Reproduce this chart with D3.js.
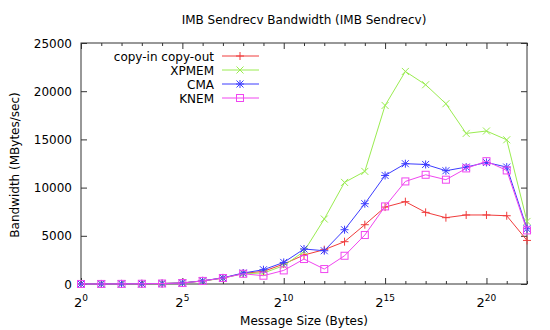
<!DOCTYPE html>
<html>
<head>
<meta charset="utf-8">
<script src="https://cdn.jsdelivr.net/npm/d3@7"></script>
<style>
  html, body { margin: 0; padding: 0; background: #fff; }
  svg { display: block; }
  text { font-family: "DejaVu Sans", sans-serif; fill: #000; }
</style>
</head>
<body>
<svg id="chart" width="550" height="330"></svg>
<script>
// Message size exponents (bytes = 2^exp)
const exponents = [0,1,2,3,4,5,6,7,8,9,10,11,12,13,14,15,16,17,18,19,20,21,22];

// Bandwidth in MBytes/sec per implementation
const copyInOut = [3,6,12,25,50,110,320,620,1100,1310,2070,3010,3560,4390,6150,7980,8540,7430,6880,7160,7160,7080,4520];
const xpmem     = [3,6,12,25,50,100,300,600,1080,1140,1900,3380,6740,10540,11680,18520,22050,20670,18700,15620,15870,14960,6490];
const cma       = [3,6,12,25,50,110,330,640,1140,1480,2240,3630,3450,5630,8330,11260,12480,12400,11750,12130,12610,12130,5730];
const knem      = [3,6,12,25,50,100,320,620,1060,860,1410,2590,1550,2930,5080,8050,10640,11330,10820,11990,12740,11780,5560];

const seriesNames = ["copy-in copy-out", "XPMEM", "CMA", "KNEM"];
const yTicks = [0, 5000, 10000, 15000, 20000, 25000];
const xLabelExps = [0, 5, 10, 15, 20];

const series = [
  { name: seriesNames[0], values: copyInOut, color: "#f03c3c", marker: "plus" },
  { name: seriesNames[1], values: xpmem,     color: "#9aec50", marker: "cross" },
  { name: seriesNames[2], values: cma,       color: "#3c3cff", marker: "star" },
  { name: seriesNames[3], values: knem,      color: "#f046f0", marker: "square" }
];

const svg = d3.select("#chart");
const plot = { left: 81, right: 527, top: 43, bottom: 284 };

const x = d3.scaleLinear().domain([0, 22]).range([plot.left, plot.right]);
const y = d3.scaleLinear().domain([0, 25000]).range([plot.bottom, plot.top]);

// Title
svg.append("text")
  .attr("x", 304).attr("y", 24)
  .attr("text-anchor", "middle")
  .attr("font-size", 12)
  .text("IMB Sendrecv Bandwidth (IMB Sendrecv)");

// Axis titles
svg.append("text")
  .attr("x", 304).attr("y", 325)
  .attr("text-anchor", "middle")
  .attr("font-size", 12)
  .text("Message Size (Bytes)");

svg.append("text")
  .attr("transform", "translate(19,165) rotate(-90)")
  .attr("text-anchor", "middle")
  .attr("font-size", 12)
  .text("Bandwidth (MBytes/sec)");

// Ticks drawn inward on all four sides, using d3 axes
const tickColor = "#333";
function styleAxis(g) {
  g.select(".domain").remove();
  g.selectAll("line").attr("stroke", tickColor).attr("stroke-width", 1);
  g.selectAll("text").remove();
}

const minorX = exponents.filter(e => e % 5 !== 0);
const majorX = exponents.filter(e => e % 5 === 0);

svg.append("g").attr("transform", `translate(0,${plot.bottom})`)
  .call(d3.axisTop(x).tickValues(minorX).tickSize(3)).call(styleAxis);
svg.append("g").attr("transform", `translate(0,${plot.bottom})`)
  .call(d3.axisTop(x).tickValues(majorX).tickSize(6)).call(styleAxis);
svg.append("g").attr("transform", `translate(0,${plot.top})`)
  .call(d3.axisBottom(x).tickValues(minorX).tickSize(3)).call(styleAxis);
svg.append("g").attr("transform", `translate(0,${plot.top})`)
  .call(d3.axisBottom(x).tickValues(majorX).tickSize(6)).call(styleAxis);
svg.append("g").attr("transform", `translate(${plot.left},0)`)
  .call(d3.axisRight(y).tickValues(yTicks).tickSize(6)).call(styleAxis);
svg.append("g").attr("transform", `translate(${plot.right},0)`)
  .call(d3.axisLeft(y).tickValues(yTicks).tickSize(6)).call(styleAxis);

// Y tick labels
svg.append("g").selectAll("text").data(yTicks).join("text")
  .attr("x", plot.left - 9)
  .attr("y", d => y(d) + 4.5)
  .attr("text-anchor", "end")
  .attr("font-size", 12)
  .text(d => d);

// X tick labels as powers of two
const xl = svg.append("g").selectAll("text").data(xLabelExps).join("text")
  .attr("x", d => x(d))
  .attr("y", 307)
  .attr("text-anchor", "middle")
  .attr("font-size", 13);
xl.append("tspan").text("2");
xl.append("tspan").attr("dy", -6).attr("font-size", 9).text(d => d);

// Frame
svg.append("rect")
  .attr("x", plot.left).attr("y", plot.top)
  .attr("width", plot.right - plot.left).attr("height", plot.bottom - plot.top)
  .attr("fill", "none").attr("stroke", tickColor).attr("stroke-width", 1);

// Marker shapes
function drawMarker(g, type, cx, cy, color) {
  const r = 3.5;
  const line = (x1, y1, x2, y2) => g.append("line")
    .attr("x1", x1).attr("y1", y1).attr("x2", x2).attr("y2", y2)
    .attr("stroke", color).attr("stroke-width", 1);
  if (type === "plus" || type === "star") {
    line(cx - r - 0.5, cy, cx + r + 0.5, cy);
    line(cx, cy - r - 0.5, cx, cy + r + 0.5);
  }
  if (type === "cross" || type === "star") {
    line(cx - r, cy - r, cx + r, cy + r);
    line(cx - r, cy + r, cx + r, cy - r);
  }
  if (type === "square") {
    g.append("rect")
      .attr("x", cx - r).attr("y", cy - r)
      .attr("width", 2 * r).attr("height", 2 * r)
      .attr("fill", "none").attr("stroke", color).attr("stroke-width", 1);
  }
}

const lineGen = d3.line().x((d, i) => x(exponents[i])).y(d => y(d));

const plotArea = svg.append("g");
series.forEach(s => {
  const g = plotArea.append("g");
  g.append("path")
    .attr("d", lineGen(s.values))
    .attr("fill", "none")
    .attr("stroke", s.color)
    .attr("stroke-width", 1);
  s.values.forEach((v, i) => drawMarker(g, s.marker, x(exponents[i]), y(v), s.color));
});

// Legend
const legend = svg.append("g");
series.forEach((s, i) => {
  const ly = 56 + i * 14;
  legend.append("text")
    .attr("x", 214).attr("y", ly + 4.5)
    .attr("text-anchor", "end")
    .attr("font-size", 12)
    .text(s.name);
  legend.append("line")
    .attr("x1", 222).attr("x2", 259).attr("y1", ly).attr("y2", ly)
    .attr("stroke", s.color).attr("stroke-width", 1);
  drawMarker(legend, s.marker, 240, ly, s.color);
});
</script>
</body>
</html>
